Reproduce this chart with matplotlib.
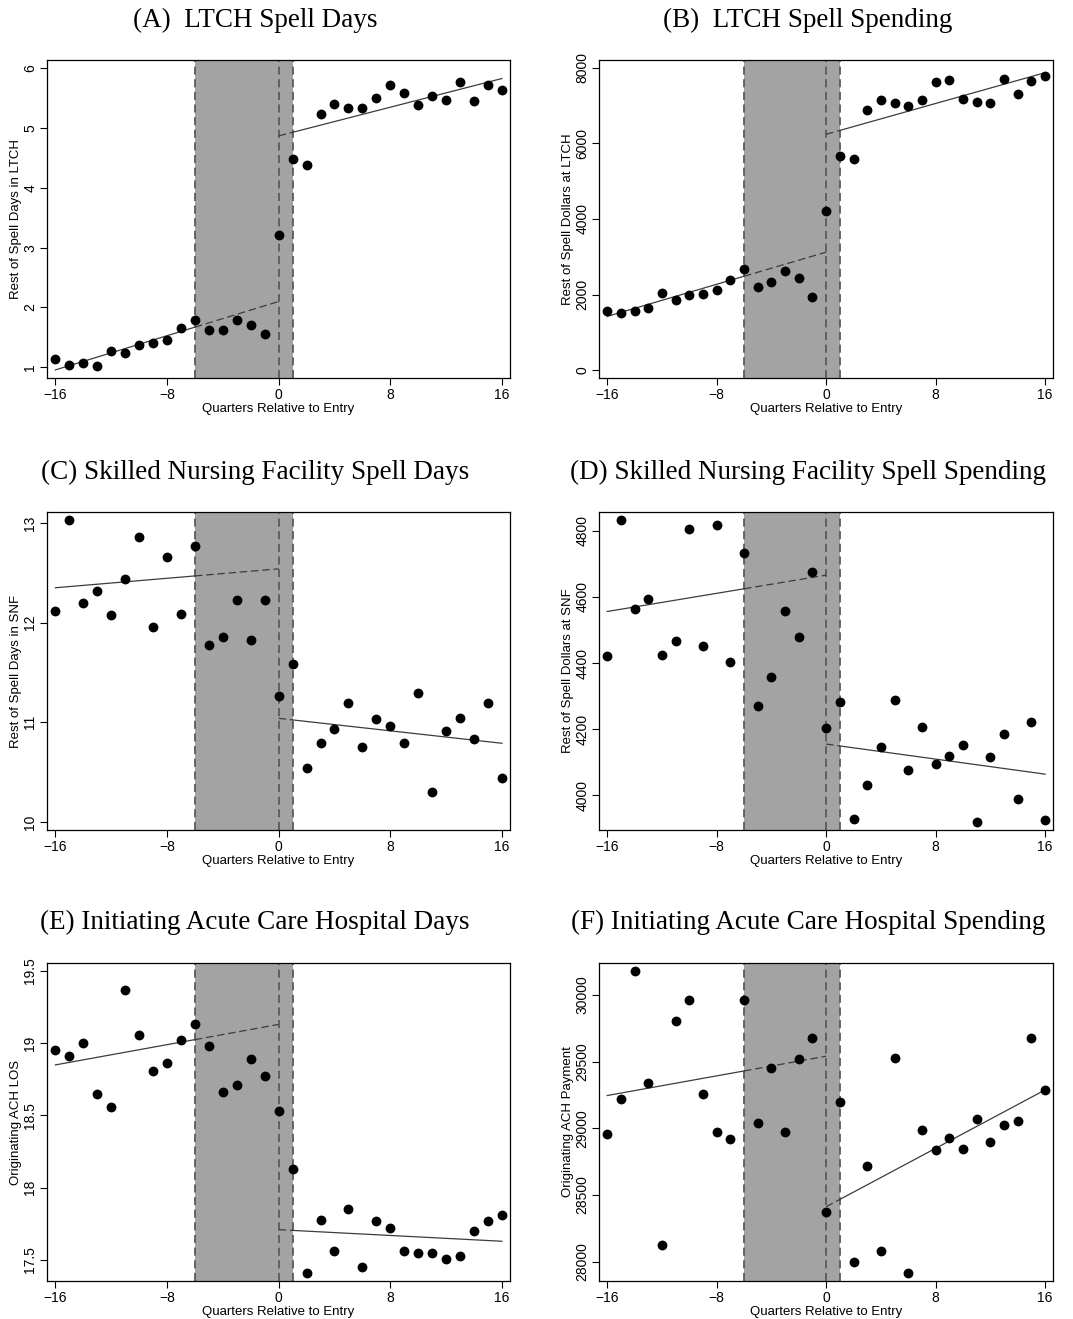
import numpy as np
import matplotlib
matplotlib.use("Agg")
import matplotlib.pyplot as plt

plt.rcParams["font.family"] = ["Liberation Sans", "DejaVu Sans"]

quarters = np.arange(-16, 17)

# Binned means by quarter relative to entry
ltch_days = [1.14, 1.04, 1.07, 1.02, 1.28, 1.24, 1.37, 1.40, 1.45, 1.65, 1.79,
             1.62, 1.62, 1.79, 1.70, 1.55, 3.22, 4.48, 4.38, 5.24, 5.41, 5.33,
             5.33, 5.51, 5.72, 5.58, 5.38, 5.54, 5.47, 5.77, 5.45, 5.72, 5.64]
ltch_spend = [1558, 1514, 1566, 1654, 2050, 1857, 1980, 2024, 2130, 2376, 2684,
              2209, 2332, 2614, 2429, 1945, 4215, 5667, 5588, 6873, 7137, 7058,
              6987, 7146, 7612, 7674, 7172, 7093, 7075, 7709, 7295, 7656, 7779]
snf_days = [12.12, 13.03, 12.20, 12.32, 12.08, 12.44, 12.86, 11.96, 12.66, 12.09,
            12.77, 11.78, 11.86, 12.23, 11.83, 12.23, 11.26, 11.59, 10.54, 10.79,
            10.93, 11.19, 10.75, 11.03, 10.96, 10.79, 11.29, 10.30, 10.91, 11.04,
            10.83, 11.19, 10.44]
snf_spend = [4422, 4834, 4564, 4594, 4424, 4466, 4806, 4452, 4817, 4404, 4732,
             4271, 4358, 4559, 4478, 4675, 4204, 4283, 3929, 4031, 4147, 4288,
             4077, 4208, 4094, 4118, 4153, 3920, 4116, 4185, 3989, 4222, 3924]
ach_los = [18.95, 18.91, 19.00, 18.65, 18.56, 19.37, 19.06, 18.81, 18.86, 19.02,
           19.13, 18.98, 18.66, 18.71, 18.89, 18.77, 18.53, 18.13, 17.41, 17.78,
           17.56, 17.85, 17.45, 17.77, 17.72, 17.56, 17.55, 17.55, 17.51, 17.53,
           17.70, 17.77, 17.81]
ach_pay = [28954, 29219, 30180, 29341, 28127, 29808, 29960, 29256, 28971, 28919,
           29960, 29041, 29453, 28971, 29523, 29680, 28375, 29194, 27998, 28714,
           28082, 29528, 27915, 28991, 28834, 28926, 28844, 29071, 28899, 29026,
           29056, 29680, 29288]

# Linear trends: pre-period (value at -16, value at 0), post-period (value at 0, value at 16)
pre_fit = [(0.955, 2.10), (1426, 3124), (12.35, 12.54),
           (4556, 4666), (18.85, 19.13), (29246, 29541)]
post_fit = [(4.87, 5.83), (6239, 7867), (11.04, 10.79),
            (4155, 4064), (17.71, 17.63), (28412, 29288)]

titles = ["(A)  LTCH Spell Days", "(B)  LTCH Spell Spending",
          "(C) Skilled Nursing Facility Spell Days",
          "(D) Skilled Nursing Facility Spell Spending",
          "(E) Initiating Acute Care Hospital Days",
          "(F) Initiating Acute Care Hospital Spending"]
ylabels = ["Rest of Spell Days in LTCH", "Rest of Spell Dollars at LTCH",
           "Rest of Spell Days in SNF", "Rest of Spell Dollars at SNF",
           "Originating ACH LOS", "Originating ACH Payment"]
yticks = [[1, 2, 3, 4, 5, 6], [0, 2000, 4000, 6000, 8000], [10, 11, 12, 13],
          [4000, 4200, 4400, 4600, 4800], [17.5, 18, 18.5, 19, 19.5],
          [28000, 28500, 29000, 29500, 30000]]
ylims = [(0.82, 6.14), (-202, 8202), (9.92, 13.11),
         (3895, 4857), (17.355, 19.555), (27855, 30240)]
series = [ltch_days, ltch_spend, snf_days, snf_spend, ach_los, ach_pay]

W, H = 1073, 1319
fig = plt.figure(figsize=(W / 100, H / 100), dpi=100)

col_left = [47, 599]
col_right = [510, 1053]
row_top = [60, 512, 963]
row_bot = [378, 830, 1281]
title_x = [255, 808]
title_y = [20, 472, 922]

for i in range(6):
    r, c = divmod(i, 2)
    l, rr = col_left[c], col_right[c]
    t, b = row_top[r], row_bot[r]
    ax = fig.add_axes([l / W, 1 - b / H, (rr - l) / W, (b - t) / H])

    ax.axvspan(-6, 1, color="#a3a3a3", lw=0, zorder=0)
    for xv in (-6, 0, 1):
        ax.axvline(xv, color="#5a5a5a", lw=1.3, ls=(0, (4.5, 2.5)), zorder=1)

    p0, p1 = pre_fit[i]
    q0, q1 = post_fit[i]
    pre_mid = np.interp(-6, [-16, 0], [p0, p1])
    post_mid = np.interp(1, [0, 16], [q0, q1])
    kw = dict(color="#3c3c3c", lw=0.9, zorder=2)
    ax.plot([-16, -6], [p0, pre_mid], **kw)
    ax.plot([-6, 0], [pre_mid, p1], ls=(0, (6, 3)), **kw)
    ax.plot([0, 1], [q0, post_mid], ls=(0, (6, 3)), **kw)
    ax.plot([1, 16], [post_mid, q1], **kw)

    ax.scatter(quarters, series[i], s=50, color="black", zorder=3, linewidths=0)

    ax.set_xlim(-16.6, 16.58)
    ax.set_ylim(*ylims[i])
    ax.set_xticks([-16, -8, 0, 8, 16])
    ax.set_yticks(yticks[i])
    ax.set_yticklabels(["%g" % v for v in yticks[i]])
    ax.tick_params(axis="both", direction="out", length=5, width=0.8,
                   labelsize=10, colors="black", pad=2)
    ax.tick_params(axis="y", labelrotation=90)
    for lab in ax.get_yticklabels():
        lab.set_va("center")
    for sp in ax.spines.values():
        sp.set_linewidth(0.9)
        sp.set_color("black")

    ax.set_xlabel("Quarters Relative to Entry", fontsize=9.5, labelpad=1)
    ax.set_ylabel(ylabels[i], fontsize=9.5, labelpad=1)

    fig.text(title_x[c] / W, 1 - title_y[r] / H, titles[i],
             family=["Liberation Serif", "DejaVu Serif"], fontsize=19.5,
             ha="center", va="center")

fig.savefig("out.png", dpi=100)
